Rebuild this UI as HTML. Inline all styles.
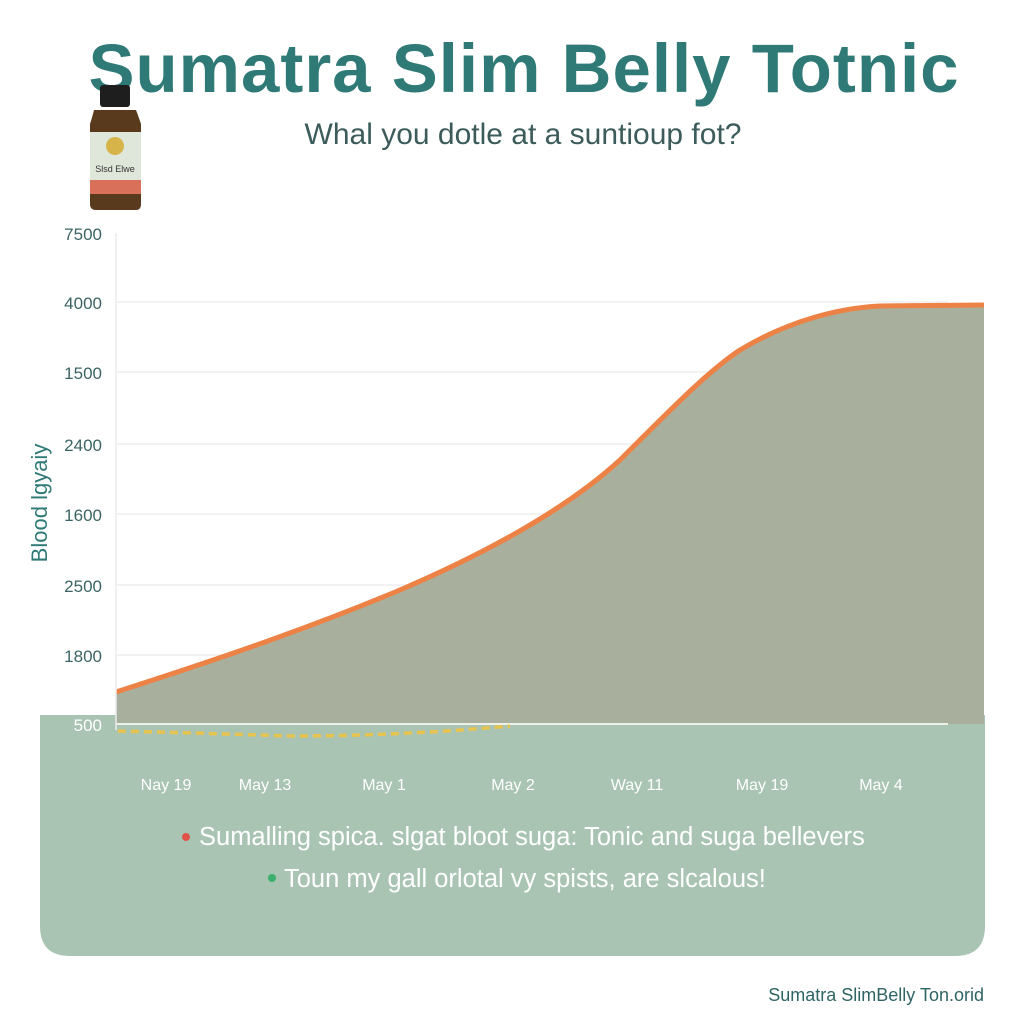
<!DOCTYPE html>
<html><head><meta charset="utf-8"><style>
body{margin:0;width:1024px;height:1024px;background:#fff;overflow:hidden;font-family:"Liberation Sans",sans-serif}
</style></head><body>
<svg width="1024" height="1024" viewBox="0 0 1024 1024" xmlns="http://www.w3.org/2000/svg" font-family="Liberation Sans, sans-serif">
<rect width="1024" height="1024" fill="#fff"/>
<text x="524" y="92" text-anchor="middle" font-size="69" font-weight="bold" fill="#2f7a76" letter-spacing="1">Sumatra Slim Belly Totnic</text>
<text x="523" y="144" text-anchor="middle" font-size="30" fill="#3c5b5b">Whal you dotle at a suntioup fot?</text>
<!-- bottle -->
<rect x="100" y="85" width="30" height="22" rx="3" fill="#1e1e1e"/>
<path d="M94 110 Q92 118 90 124 L90 204 Q90 210 96 210 L136 210 Q141 210 141 204 L141 124 Q139 118 136 110 Z" fill="#5a3a1c"/>
<rect x="90" y="132" width="51" height="62" fill="#dfe6da"/>
<circle cx="115" cy="146" r="9" fill="#d6b44a"/>
<rect x="90" y="180" width="51" height="14" fill="#d8705a"/>
<text x="115" y="172" text-anchor="middle" font-size="9" fill="#333">Slsd Elwe</text>
<!-- grid -->
<g stroke="#e6e6e6" stroke-width="1">
<line x1="116" y1="302" x2="948" y2="302"/><line x1="116" y1="372" x2="948" y2="372"/>
<line x1="116" y1="444" x2="948" y2="444"/><line x1="116" y1="514" x2="948" y2="514"/>
<line x1="116" y1="585" x2="948" y2="585"/><line x1="116" y1="655" x2="948" y2="655"/>
</g>
<g font-size="17" fill="#3c6464" text-anchor="end">
<text x="102" y="240">7500</text><text x="102" y="309">4000</text><text x="102" y="379">1500</text>
<text x="102" y="451">2400</text><text x="102" y="521">1600</text><text x="102" y="592">2500</text>
<text x="102" y="662">1800</text>
</g>
<text transform="translate(47,503) rotate(-90)" text-anchor="middle" font-size="22" fill="#2f7a76">Blood lgyaiy</text>
<!-- green panel -->
<path d="M40 715 L985 715 L985 926 Q985 956 955 956 L70 956 Q40 956 40 926 Z" fill="#a9c4b3"/>
<!-- area -->
<path d="M116 692 C200 665 300 632 400 590 C470 560 560 515 620 460 C680 400 710 370 740 350 C790 320 840 308 880 306 L984 305 L984 724 L116 724 Z" fill="#a8b09d"/>
<path d="M116 692 C200 665 300 632 400 590 C470 560 560 515 620 460 C680 400 710 370 740 350 C790 320 840 308 880 306 L984 305" fill="none" stroke="#ec8246" stroke-width="5"/>
<line x1="116" y1="724" x2="948" y2="724" stroke="#eef0ea" stroke-width="2"/>
<line x1="116" y1="233" x2="116" y2="730" stroke="#ececec" stroke-width="1.5"/>
<text x="102" y="731" text-anchor="end" font-size="17" fill="#fff">500</text>
<path d="M118 731 Q200 733 290 736 Q400 736 510 726" fill="none" stroke="#e8c34e" stroke-width="3.5" stroke-dasharray="8 5"/>
<g font-size="16" fill="#fff" text-anchor="middle">
<text x="166" y="790">Nay 19</text><text x="265" y="790">May 13</text><text x="384" y="790">May 1</text>
<text x="513" y="790">May 2</text><text x="637" y="790">Way 11</text><text x="762" y="790">May 19</text><text x="881" y="790">May 4</text>
</g>
<circle cx="186" cy="837" r="4" fill="#e0524a"/>
<text x="199" y="845" font-size="25.5" fill="#fff">Sumalling spica. slgat bloot suga: Tonic and suga bellevers</text>
<circle cx="272" cy="878" r="4" fill="#3bb06a"/>
<text x="284" y="887" font-size="25.5" fill="#fff">Toun my gall orlotal vy spists, are slcalous!</text>
<text x="984" y="1001" text-anchor="end" font-size="18" fill="#2f6464">Sumatra SlimBelly Ton.orid</text>
</svg>
</body></html>
